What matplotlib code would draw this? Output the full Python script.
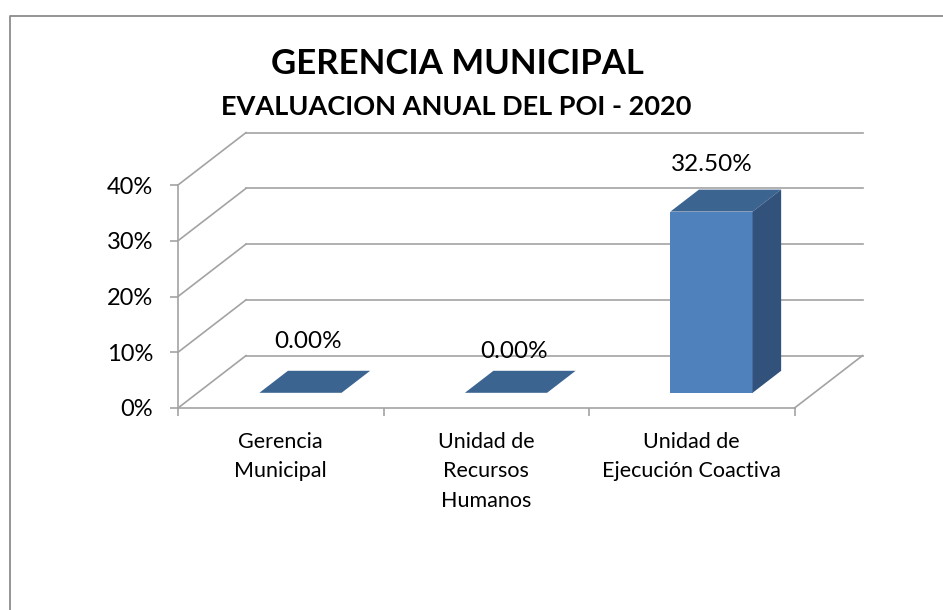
import matplotlib
matplotlib.use("Agg")
import matplotlib.pyplot as plt
from matplotlib.patches import Polygon
from matplotlib.lines import Line2D
from matplotlib.ticker import PercentFormatter, FixedLocator

# ---- data ----
categories = ["Gerencia\nMunicipal", "Unidad de\nRecursos\nHumanos", "Unidad de\nEjecución Coactiva"]
values = [0.0, 0.0, 0.325]
y_ticks = [0.0, 0.1, 0.2, 0.3, 0.4]
title = "GERENCIA MUNICIPAL"
subtitle = "EVALUACION ANUAL DEL POI - 2020"

# ---- style ----
FONT = ["Lato", "DejaVu Sans"]
plt.rcParams["font.family"] = FONT
GRID = "#A3A3A3"
FRONT = "#4F81BD"
TOP = "#3C6491"
SIDE = "#32527C"
DX, DY = 0.331, 0.094      # depth offset (category units, value units)
F, G = 0.29, 0.71          # bar front/back depth fraction
BW = 0.40                  # bar width (category units)
label_offsets_px = [(27, 67), (28, 56), (20, 62)]

W, H = 943, 610
fig = plt.figure(figsize=(W / 100, H / 100), dpi=100)

# axes placed so that category unit = 205.5 px, 10% = 55.75 px
x0_px, y0_px = 178, 408
xmax, ymax = 3.4, 0.5
ax = fig.add_axes([x0_px / W, (H - y0_px) / H, xmax * 205.5 / W, ymax * 557.5 / H])
ax.set_xlim(0, xmax)
ax.set_ylim(0, ymax)
ax.patch.set_alpha(0)

n = len(categories)
lw = 1.2

# back wall gridlines + side wall diagonals
for yv in y_ticks:
    ax.add_line(Line2D([DX, n + DX], [yv + DY, yv + DY], color=GRID, lw=lw, zorder=1, clip_on=False))
    ax.add_line(Line2D([0, DX], [yv, yv + DY], color=GRID, lw=lw, zorder=1, clip_on=False))
# floor right edge
ax.add_line(Line2D([n, n + DX], [0, DY], color=GRID, lw=lw, zorder=1, clip_on=False))

# spines as front axes
for s in ["top", "right"]:
    ax.spines[s].set_visible(False)
ax.spines["left"].set_bounds(0, y_ticks[-1])
ax.spines["bottom"].set_bounds(0, n)
for s in ["left", "bottom"]:
    ax.spines[s].set_color(GRID)
    ax.spines[s].set_linewidth(lw)
    ax.spines[s].set_zorder(2)

ax.yaxis.set_major_locator(FixedLocator(y_ticks))
ax.yaxis.set_major_formatter(PercentFormatter(1.0, decimals=0))
ax.tick_params(axis="y", length=6, width=lw, color=GRID, labelsize=17, pad=12, labelcolor="black")

ax.xaxis.set_major_locator(FixedLocator(list(range(n + 1))))
ax.xaxis.set_minor_locator(FixedLocator([i + 0.5 for i in range(n)]))
ax.set_xticklabels([""] * (n + 1))
ax.set_xticklabels(categories, minor=True)
ax.tick_params(axis="x", which="major", length=6, width=lw, color=GRID)
ax.tick_params(axis="x", which="minor", length=0, pad=17, labelsize=15.5)
for t in ax.get_xticklabels(minor=True):
    t.set_linespacing(1.6)

# bars
for i, v in enumerate(values):
    xl = i + 0.5 - BW / 2
    xr = i + 0.5 + BW / 2
    fx, fy = F * DX, F * DY
    gx, gy = G * DX, G * DY
    top = Polygon([(xl + fx, v + fy), (xr + fx, v + fy), (xr + gx, v + gy), (xl + gx, v + gy)],
                  closed=True, facecolor=TOP, edgecolor="none", zorder=5, clip_on=False)
    ax.add_patch(top)
    if v > 0:
        front = Polygon([(xl + fx, fy), (xr + fx, fy), (xr + fx, v + fy), (xl + fx, v + fy)],
                        closed=True, facecolor=FRONT, edgecolor="none", zorder=5, clip_on=False)
        side = Polygon([(xr + fx, fy), (xr + gx, gy), (xr + gx, v + gy), (xr + fx, v + fy)],
                       closed=True, facecolor=SIDE, edgecolor="none", zorder=5, clip_on=False)
        ax.add_patch(front)
        ax.add_patch(side)
    ox, oy = label_offsets_px[i]
    ax.annotate(f"{v * 100:.2f}%", xy=(i + 0.5, v), xytext=(ox, oy), textcoords="offset pixels",
                ha="center", va="center", fontsize=17.5, zorder=6, annotation_clip=False)

# titles
fig.text(457 / W, 1 - 64 / H, title, ha="center", va="center", fontsize=25, fontweight="bold")
fig.text(456 / W, 1 - 107 / H, subtitle, ha="center", va="center", fontsize=19.5, fontweight="bold")

# outer chart border (left and top visible)
fig.add_artist(Line2D([10 / W, 10 / W, 1.0], [0.0, 1 - 16 / H, 1 - 16 / H],
                      transform=fig.transFigure, color="#8C8C8C", lw=1.3))

fig.savefig("out.png", dpi=100)
